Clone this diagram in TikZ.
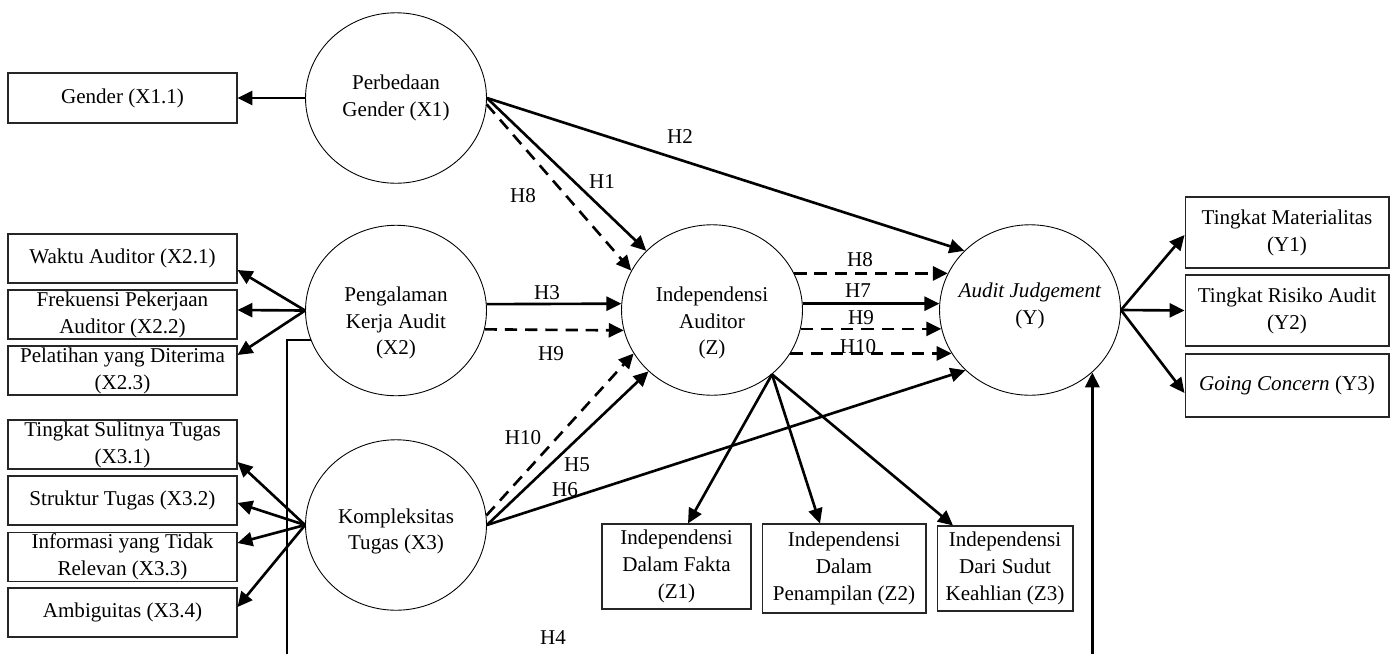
\documentclass[tikz,border=0pt]{standalone}
\usepackage{fontspec}
\setmainfont{Liberation Serif}
\usetikzlibrary{arrows.meta,shapes.geometric}

\begin{document}
\begin{tikzpicture}[x=0.02cm, y=-0.02cm,
    every node/.style={font=\fontsize{12pt}{15.3pt}\selectfont},
    latent/.style={draw, ellipse, line width=0.5pt, minimum width=3.62cm, minimum height=3.41cm, inner sep=0pt},
    ltext/.style={align=center, inner sep=0pt},
    indicator/.style={draw=black!85, line width=0.6pt, rectangle, align=center, inner sep=0pt},
    leftbox/.style={indicator, minimum width=4.58cm, minimum height=0.98cm},
    rightbox/.style={indicator, minimum width=4.08cm, minimum height=1.42cm},
    hlabel/.style={inner sep=0pt},
    conn/.style={line width=1.5pt, -{Triangle[length=8.5pt,width=8pt]}},
    dconn/.style={conn, dash pattern=on 7pt off 4.5pt}]
  \useasboundingbox (0,0) rectangle (1398,653);
  % latent variables
  \node[latent, label={[ltext]center:Perbedaan\\Gender (X1)}] (X1) at (396,98) {};
  \node[latent, label={[ltext, yshift=-0.25cm]center:Pengalaman\\Kerja Audit\\(X2)}] (X2) at (396,310.5) {};
  \node[latent, label={[ltext, yshift=-0.13cm]center:Kompleksitas\\Tugas (X3)}] (X3) at (396,525) {};
  \node[latent, label={[ltext, yshift=-0.26cm]center:Independensi\\Auditor\\(Z)}] (Z) at (712,310) {};
  \node[latent, label={[ltext, yshift=0.09cm]center:\textit{Audit Judgement}\\(Y)}] (Y) at (1030,310) {};
  % indicators
  \node[leftbox, minimum height=1cm] (X11) at (122.5,98) {Gender (X1.1)};
  \node[leftbox] (X21) at (122.5,258.5) {Waktu Auditor (X2.1)};
  \node[leftbox] (X22) at (122.5,314.5) {Frekuensi Pekerjaan\\Auditor (X2.2)};
  \node[leftbox] (X23) at (122.5,370.5) {Pelatihan yang Diterima\\(X2.3)};
  \node[leftbox] (X31) at (122.5,444.5) {Tingkat Sulitnya Tugas\\(X3.1)};
  \node[leftbox] (X32) at (122.5,500.5) {Struktur Tugas (X3.2)};
  \node[leftbox] (X33) at (122.5,557) {Informasi yang Tidak\\Relevan (X3.3)};
  \node[leftbox] (X34) at (122.5,612.5) {Ambiguitas (X3.4)};
  \node[rightbox] (Y1) at (1287,232.5) {Tingkat Materialitas\\(Y1)};
  \node[rightbox] (Y2) at (1287,310.5) {Tingkat Risiko Audit\\(Y2)};
  \node[rightbox, minimum height=1.26cm] (Y3) at (1287,385.5) {\textit{Going Concern} (Y3)};
  \node[indicator, minimum width=2.98cm, minimum height=1.7cm] (Z1) at (676.5,566.5) {Independensi\\Dalam Fakta\\(Z1)};
  \node[indicator, minimum width=3.28cm, minimum height=1.78cm] (Z2) at (844,568.5) {Independensi\\Dalam\\Penampilan (Z2)};
  \node[indicator, minimum width=2.72cm, minimum height=1.7cm] (Z3) at (1005,568.5) {Independensi\\Dari Sudut\\Keahlian (Z3)};
  % hypothesis labels
  \node[hlabel] (lH2) at (680,137) {H2};
  \node[hlabel] (lH1) at (602,182) {H1};
  \node[hlabel] (lH8a) at (523,196) {H8};
  \node[hlabel] (lH3) at (547,293) {H3};
  \node[hlabel] (lH9a) at (551,354) {H9};
  \node[hlabel] (lH8b) at (860,260) {H8};
  \node[hlabel] (lH7) at (858,291) {H7};
  \node[hlabel] (lH9b) at (861,318) {H9};
  \node[hlabel] (lH10b) at (858,347) {H10};
  \node[hlabel] (lH10a) at (523,438) {H10};
  \node[hlabel] (lH5) at (577,465) {H5};
  \node[hlabel] (lH6) at (565,490) {H6};
  \node[hlabel] (lH4) at (553,638) {H4};
  % lines
  \draw[conn] (X1.west) -- (X11.east);
  \draw[conn] (X1.east) -- (Z.138);
  \draw[dconn] (X1.-4) -- (Z.154);
  \draw[conn] (X1.east) -- (Y.138);
  \draw[conn] (X2.west) -- ([yshift=-0.23cm]X21.east);
  \draw[conn] (X2.west) -- ([yshift=0.09cm]X22.east);
  \draw[conn] (X2.west) -- ([yshift=0.31cm]X23.east);
  \draw[conn] (X2.4) -- (Z.176);
  \draw[dconn] (X2.-12) -- (Z.193);
  \draw[conn] (X3.west) -- ([yshift=-0.35cm]X31.east);
  \draw[conn] (X3.west) -- ([yshift=-0.05cm]X32.east);
  \draw[conn] (X3.west) -- ([yshift=0.28cm]X33.east);
  \draw[conn] (X3.west) -- ([yshift=0.11cm]X34.east);
  \draw[dconn] (X3.6) -- (Z.209);
  \draw[conn] (X3.east) -- (Z.224);
  \draw[conn] (X3.east) -- (Y.223);
  \draw[dconn] (Z.24) -- (Y.156);
  \draw[conn] (Z.4) -- (Y.176);
  \draw[dconn] (Z.-12) -- (Y.192);
  \draw[dconn] (Z.-29) -- (Y.209);
  \draw[conn] (Z.-47) -- ([xshift=0.23cm]Z1.north);
  \draw[conn] (Z.-47) -- ([xshift=-0.48cm]Z2.north);
  \draw[conn] (Z.-47) -- ([xshift=-1.04cm]Z3.north);
  \draw[conn] (Y.east) -- ([yshift=-0.05cm]Y1.west);
  \draw[conn] (Y.east) -- (Y2.west);
  \draw[conn] (Y.east) -- ([yshift=-0.15cm]Y3.west);
  \coordinate (bendL) at (287,657);
  \draw[conn] (X2.199) -| (bendL) -| (Y.-45);
\end{tikzpicture}
\end{document}
